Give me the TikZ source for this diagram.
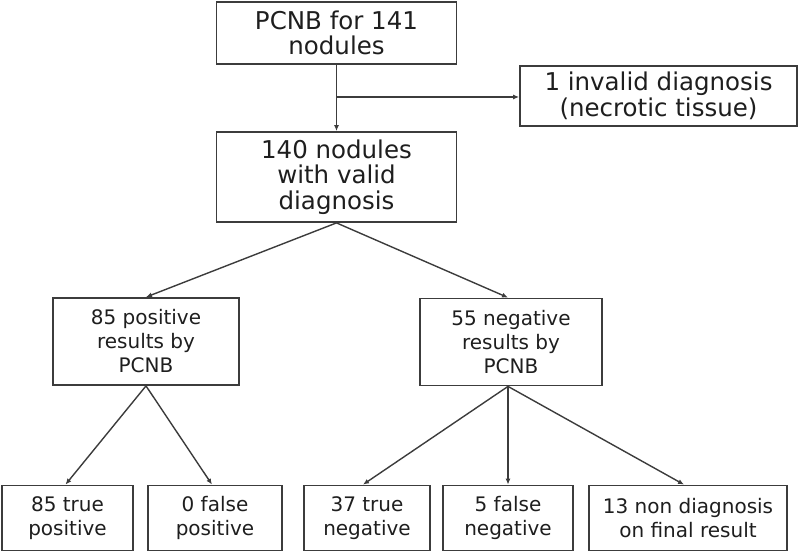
\documentclass[tikz,border=0pt]{standalone}
\usepackage{fontspec}
\setmainfont{DejaVu Sans}
\usetikzlibrary{arrows.meta}
\definecolor{linec}{HTML}{3C3C3C}
\definecolor{textc}{HTML}{1E1E1E}
\tikzset{
  boxa/.style={draw=linec, line width=1.8pt, align=center, inner sep=0pt,
    font=\fontsize{24.5}{25.5}\selectfont, text=textc},
  boxb/.style={draw=linec, line width=1.8pt, align=center, inner sep=0pt,
    font=\fontsize{20}{24}\selectfont, text=textc},
  arr/.style={draw=linec, line width=1.4pt, -{Latex[length=6pt,width=5pt]}},
}
\begin{document}
\begin{tikzpicture}[x=1pt,y=-1pt]
\useasboundingbox (0,0) rectangle (800,553);
\node[boxa, minimum width=240pt, minimum height=62pt] (top) at (336.5,33) {PCNB for 141\\nodules};
\node[boxa, minimum width=277pt, minimum height=60pt] (inv) at (658.5,96) {1 invalid diagnosis\\(necrotic tissue)};
\node[boxa, minimum width=240pt, minimum height=90pt] (valid) at (336.5,177) {140 nodules\\with valid\\diagnosis};
\node[boxb, minimum width=186pt, minimum height=87pt] (pos) at (146,341.5) {85 positive\\results by\\PCNB};
\node[boxb, minimum width=182pt, minimum height=87pt] (neg) at (511,342) {55 negative\\results by\\PCNB};
\node[boxb, minimum width=131pt, minimum height=65pt] (tp) at (67.5,518) {85 true\\positive};
\node[boxb, minimum width=134pt, minimum height=65pt] (fp) at (215,518) {0 false\\positive};
\node[boxb, minimum width=126pt, minimum height=65pt] (tn) at (367,518) {37 true\\negative};
\node[boxb, minimum width=130pt, minimum height=65pt] (fn) at (508,518) {5 false\\negative};
\node[boxb, minimum width=198pt, minimum height=65pt] (nd) at (688,518) {13 non diagnosis\\on final result};
\coordinate (br) at (336.5,97);
\draw[arr] (top.south) -- (valid.north);
\draw[arr] (br) -- (br -| inv.west);
\draw[arr] (valid.south) -- (pos.north);
\draw[arr] (valid.south) -- ([xshift=-3pt]neg.north);
\draw[arr] (pos.south) -- ([xshift=-2pt]tp.north);
\draw[arr] (pos.south) -- ([xshift=-3pt]fp.north);
\draw[arr] ([xshift=-3pt]neg.south) -- ([xshift=-4pt]tn.north);
\draw[arr] ([xshift=-3pt]neg.south) -- (fn.north);
\draw[arr] ([xshift=-3pt]neg.south) -- ([xshift=-4pt]nd.north);
\end{tikzpicture}
\end{document}
